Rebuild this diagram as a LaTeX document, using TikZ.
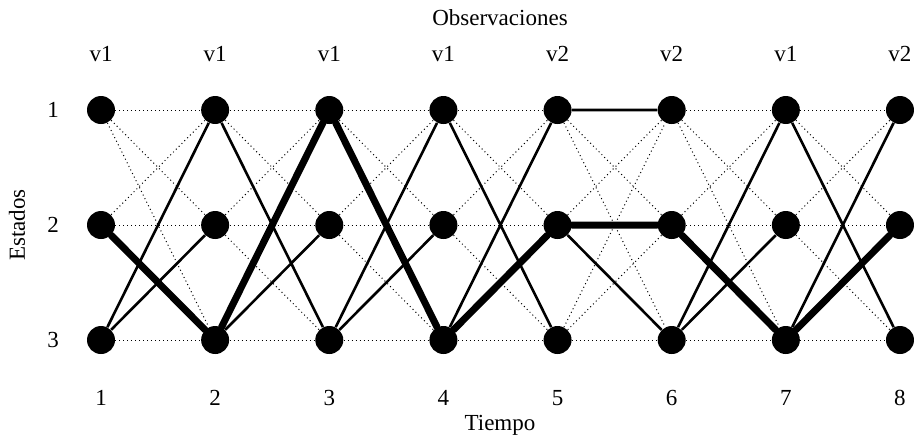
\documentclass[tikz,border=0pt]{standalone}
\usepackage{fontspec}
\setmainfont{Liberation Serif}
\begin{document}
\begin{tikzpicture}[x=0.5pt,y=-0.5pt,font=\fontsize{11.5}{14}\selectfont,
 state/.style={circle,fill=black,minimum size=14pt,inner sep=0pt},
 trans/.style={line width=0.5pt,dash pattern=on 0.5pt off 1.5pt},
 back/.style={line width=1.3pt},
 best/.style={line width=3.5pt,line cap=round,line join=round},
 lab/.style={anchor=base,inner sep=0pt}]
\useasboundingbox (0,0) rectangle (915,441);
% trellis
\foreach \t in {1,...,8}
 \foreach \s in {1,2,3}
  \node[state] (n\t\s) at ({101+114.14*(\t-1)},{110+115*(\s-1)}) {};
\foreach \t [evaluate=\t as \u using int(\t+1)] in {1,...,7}
 \foreach \a in {1,2,3}
  \foreach \b in {1,2,3}
   \draw[trans] (n\t\a) -- (n\u\b);
% back pointers
\draw[back] (n13)--(n21) (n13)--(n22);
\draw[back] (n21)--(n33) (n23)--(n32);
\draw[back] (n33)--(n41) (n33)--(n42);
\draw[back] (n41)--(n53) (n43)--(n51);
\draw[back] (n51)--(n61) (n52)--(n63);
\draw[back] (n63)--(n71) (n63)--(n72);
\draw[back] (n71)--(n83) (n73)--(n81);
% best path
\draw[best] (n12)--(n23)--(n31)--(n43)--(n52)--(n62)--(n73)--(n82);
% labels
\node[lab] (obs) at (500,25) {Observaciones};
\foreach \o [count=\t] in {v1,v1,v1,v1,v2,v2,v1,v2}
 \node[lab] (obs\t) at ({101+114.14*(\t-1)},61) {\o};
\foreach \s in {1,2,3}
 \node[lab] (est\s) at (53,{117+115*(\s-1)}) {\s};
\node[rotate=90,inner sep=0pt] (estados) at (17,225) {Estados};
\foreach \t in {1,...,8}
 \node[lab] (tim\t) at ({101+114.14*(\t-1)},405) {\t};
\node[lab] (tiempo) at (500,430) {Tiempo};
\end{tikzpicture}
\end{document}
